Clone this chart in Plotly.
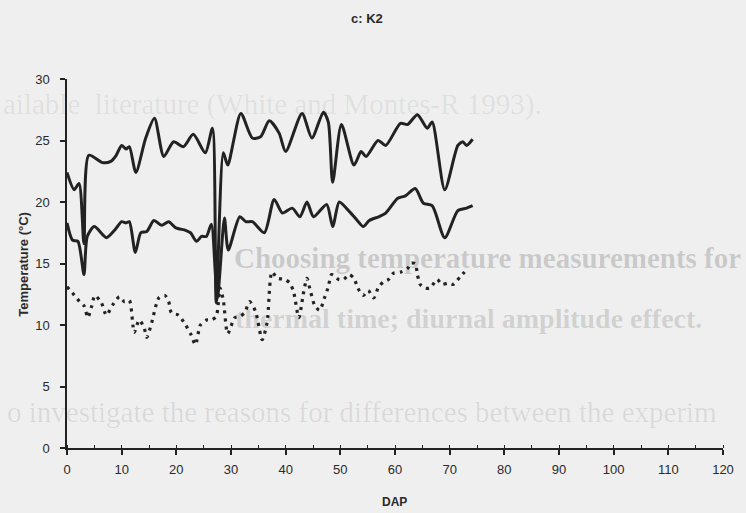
import plotly.graph_objects as go

# ---- data ----
dap_max = [0, 1.3, 2.2, 3.1, 4.0, 6.5, 8, 9, 10, 10.8, 11.4, 12.6, 14.4, 16, 17.7, 19.5, 21.3, 23.1, 25.3, 26.6,
           27.3, 28.6, 29.4, 31.8, 33.9, 35.4, 37, 38.8, 40, 43, 44.8, 46.9, 47.8, 48.6, 50.2, 52.5, 53.8, 54.7,
           56.9, 58.3, 61, 62.3, 64.1, 65.9, 66.8, 69.1, 71.5, 72.4, 73.1, 74.2]
t_max = [22.4, 21.0, 21.5, 16.6, 23.8, 23.2, 23.3, 23.8, 24.6, 24.3, 24.5, 22.4, 25.2, 26.8, 23.7, 24.9, 24.5, 25.5,
         24.0, 26.0, 11.8, 24.0, 23.0, 27.2, 25.2, 25.3, 26.6, 25.6, 24.1, 27.2, 25.2, 27.3, 26.5, 21.6, 26.3, 23.0,
         24.1, 23.7, 25.0, 24.6, 26.4, 26.3, 27.1, 26.0, 26.5, 21.0, 24.6, 24.9, 24.6, 25.1]

dap_mean = [0, 1, 2, 3.1, 3.7, 5, 7.2, 8.7, 10, 10.8, 11.4, 12.5, 13.5, 14.6, 15.9, 17.3, 18.6, 19.9, 21.7, 22.6,
            23.7, 24.6, 25.5, 26.4, 27.5, 28.8, 29.5, 31.6, 32.7, 33.9, 36.1, 37.9, 39.4, 41.2, 42.6, 43.9, 45.1,
            47.5, 48.6, 49.8, 51.3, 53.1, 54.2, 55.3, 57, 58.3, 60.5, 61.9, 63.7, 65.2, 66.8, 69.1, 71.5, 73.1, 74.2]
t_mean = [18.3, 16.9, 16.8, 14.1, 17.2, 18.0, 17.1, 17.7, 18.4, 18.3, 18.4, 15.9, 17.5, 17.6, 18.5, 18.1, 18.4, 17.9,
          17.7, 17.5, 16.8, 17.2, 17.2, 18.2, 12.2, 18.7, 16.1, 18.8, 18.4, 18.4, 17.5, 20.2, 19.1, 19.5, 18.8, 20.0,
          18.8, 19.8, 18.0, 20.0, 19.4, 18.5, 18.0, 18.5, 18.8, 19.1, 20.3, 20.5, 21.1, 19.9, 19.7, 17.1, 19.3, 19.5,
          19.7]

dap_min = [0, 1, 2.3, 3.2, 3.8, 4.5, 5.1, 6.3, 7.2, 8.3, 9.6, 10.5, 11.4, 12.3, 13.2, 14.1, 14.6, 15.5, 16.8, 17.9,
           18.6, 19.1, 20.4, 21.7, 22.7, 23.5, 24.4, 25.5, 26.4, 27.3, 28.0, 28.6, 29.4, 30.7, 31.6, 32.5, 33.4,
           34.5, 35.7, 36.6, 37.5, 38.5, 39.9, 40.8, 41.5, 42.4, 43.3, 43.9, 44.4, 45.3, 46.2, 47.1, 47.8, 48.4,
           49.7, 50.6, 51.6, 52.5, 53.2, 54.2, 55.1, 56.1, 57, 57.9, 58.8, 59.7, 61, 62.3, 62.8, 63.7, 64.1, 64.6,
           65.5, 66.4, 67.7, 68.6, 69.7, 70.6, 71.9, 73.1]
t_min = [13.1, 12.6, 11.9, 11.5, 10.6, 11.5, 12.4, 11.8, 10.8, 11.6, 12.3, 11.9, 12.0, 9.4, 10.4, 9.8, 9.0, 10.2,
         12.2, 12.4, 11.9, 11.0, 10.8, 10.0, 9.2, 8.4, 10.0, 10.4, 10.4, 10.7, 13.0, 12.0, 9.3, 10.6, 10.7, 11.0,
         11.9, 11.1, 8.8, 10.2, 14.3, 13.8, 13.7, 13.4, 12.6, 10.6, 12.7, 13.8, 13.0, 11.6, 11.2, 12.2, 13.1, 14.1,
         13.7, 13.7, 14.1, 13.8, 13.0, 12.4, 12.8, 12.2, 13.1, 13.5, 13.7, 14.2, 14.3, 14.6, 15.0, 15.0, 14.1, 13.3,
         13.0, 13.0, 13.7, 13.3, 13.4, 13.3, 13.9, 14.5]

x_ticks = list(range(0, 121, 10))
y_ticks = [0, 5, 10, 15, 20, 25, 30]

title_text = "c: K2"
x_title = "DAP"
y_title = "Temperature (°C)"

# faint text showing through from the reverse page of the scan
bleed_lines = [
    ("ailable  literature (White and Montes-R 1993).", 0, 104, 29, False, "rgba(0,0,0,0.08)"),
    ("Choosing temperature measurements for", 235, 258, 29, True, "rgba(0,0,0,0.17)"),
    ("thermal time; diurnal amplitude effect.", 236, 318, 28, True, "rgba(0,0,0,0.14)"),
    ("o investigate the reasons for differences between the experim", 4, 412, 29, False, "rgba(0,0,0,0.09)"),
]

W, H = 746, 513
L, R, T, B = 67, 12, 79, 65
pw, ph = W - L - R, H - T - B


def px_to_paper(px, py):
    return (px - L) / pw, (H - B - py) / ph


ink = "#222222"
fig = go.Figure()
fig.add_trace(go.Scatter(x=dap_max, y=t_max, mode="lines",
                         line=dict(color=ink, width=3, shape="spline", smoothing=0.7)))
fig.add_trace(go.Scatter(x=dap_mean, y=t_mean, mode="lines",
                         line=dict(color=ink, width=3, shape="spline", smoothing=0.7)))
fig.add_trace(go.Scatter(x=dap_min, y=t_min, mode="lines",
                         line=dict(color=ink, width=3.2, dash="3px,5px", shape="spline", smoothing=0.7)))

annotations = []
for text, px, py, size, bold, color in bleed_lines:
    ax, ay = px_to_paper(px, py)
    annotations.append(dict(text=("<b>%s</b>" % text) if bold else text, x=ax, y=ay, xref="paper", yref="paper",
                            xanchor="left", yanchor="middle", showarrow=False,
                            font=dict(family="Liberation Serif", size=size, color=color)))

tx, ty = px_to_paper(372, 18)
annotations.append(dict(text="<b>%s</b>" % title_text, x=tx, y=ty, xref="paper", yref="paper",
                        xanchor="center", yanchor="middle", showarrow=False,
                        font=dict(family="Liberation Sans", size=13, color="#2a2a2a")))
dx, dy = px_to_paper(400, 502)
annotations.append(dict(text="<b>%s</b>" % x_title, x=dx, y=dy, xref="paper", yref="paper",
                        xanchor="center", yanchor="middle", showarrow=False,
                        font=dict(family="Liberation Sans", size=12, color="#2a2a2a")))
yx, yy = px_to_paper(22, 264)
annotations.append(dict(text="<b>%s</b>" % y_title, x=yx, y=yy, xref="paper", yref="paper",
                        xanchor="center", yanchor="middle", showarrow=False, textangle=-90,
                        font=dict(family="Liberation Sans", size=13, color="#2a2a2a")))

axis_common = dict(showline=True, linecolor=ink, linewidth=1.5, showgrid=False, zeroline=False,
                   ticks="outside", ticklen=5, tickwidth=1.5, tickcolor=ink,
                   tickfont=dict(family="Liberation Sans", size=13, color="#2a2a2a"))

fig.update_layout(
    width=W, height=H,
    margin=dict(l=L, r=R, t=T, b=B, pad=0),
    paper_bgcolor="#efefef", plot_bgcolor="#efefef",
    showlegend=False,
    annotations=annotations,
    xaxis=dict(range=[0, 120], tickvals=x_ticks, ticklabelstandoff=4,
               minor=dict(dtick=5, tick0=0, ticks="inside", ticklen=3, tickwidth=1.2, tickcolor=ink),
               **axis_common),
    yaxis=dict(range=[0, 30], tickvals=y_ticks, ticklabelstandoff=8, **axis_common),
)

fig.write_html("out.html")
